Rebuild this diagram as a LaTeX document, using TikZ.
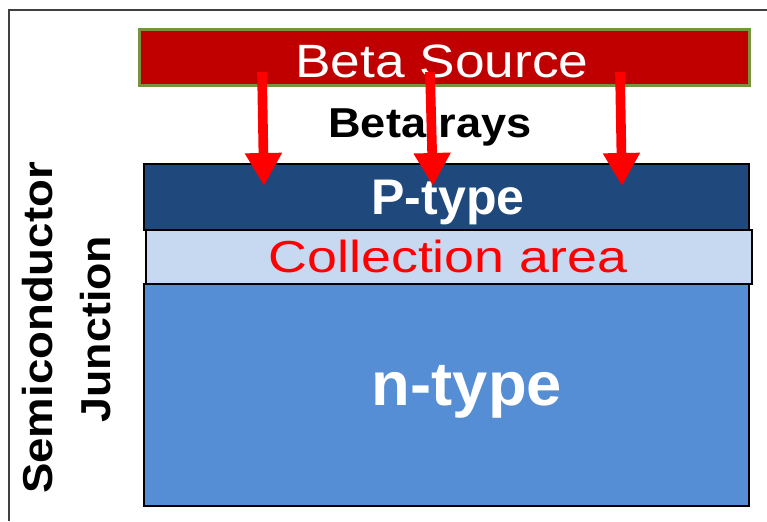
\documentclass[tikz,border=0pt]{standalone}
\usepackage{fontspec}
\setmainfont{Liberation Sans}
\usepackage{graphicx}
\usepackage{tikz}
\usetikzlibrary{arrows.meta,positioning,calc}

\definecolor{srcred}{RGB}{192,0,0}
\definecolor{srcedge}{RGB}{119,147,60}
\definecolor{pblue}{RGB}{31,73,125}
\definecolor{cblue}{RGB}{198,217,241}
\definecolor{nblue}{RGB}{85,142,213}
\definecolor{framegray}{RGB}{64,64,64}

\newcommand{\widen}[2]{\scalebox{#1}[1]{#2}}
\newcommand{\fsz}[1]{\fontsize{#1}{1.2\dimexpr#1\relax}\selectfont}

\tikzset{
  layer/.style={draw=black, line width=1.4pt, inner sep=0pt, anchor=north west},
  ray/.style={red, line width=5.5pt, -{Triangle[width=0.7cm,length=0.66cm]}},
  word/.style={anchor=base, inner sep=0pt},
}

\begin{document}
\begin{tikzpicture}[x=0.02cm, y=-0.02cm]
    \useasboundingbox (0, 0) rectangle (767, 521);
    \fill[white] (0, 0) rectangle (767, 521);

    % frame
    \draw[framegray, line width=0.8pt] (9, 521) -- (9, 10) -- (767, 10);

    % source
    \node[layer, draw=srcedge, line width=1.6pt, fill=srcred, minimum width=12.2cm, minimum height=1.12cm] (source) at (138, 28) {};
    \node[word, text=white] (sourcetxt) at (442, 77) {\fsz{26.6pt}\widen{1.14}{Beta Source}};

    \node[word] (raystxt) at (430, 137) {\fsz{23.8pt}\bfseries\widen{1.08}{Beta rays}};

    % junction layers
    \node[layer, fill=pblue, minimum width=12.1cm, minimum height=1.32cm] (ptype) at (143, 163) {};
    \node[layer, fill=nblue, minimum width=12.1cm, minimum height=4.44cm] (ntype) at (143, 283) {};
    \node[layer, fill=cblue, minimum width=12.12cm, minimum height=1.08cm] (collect) at (145, 229) {};

    \node[word, text=white] (ptxt) at (448, 214) {\fsz{28.5pt}\bfseries P-type};
    \node[word, text=red] (ctxt) at (448, 272) {\fsz{25.5pt}\widen{1.2}{Collection area}};
    \node[word, text=white] (ntxt) at (467, 405) {\fsz{35pt}\bfseries\widen{1.03}{n-type}};

    \node[word, rotate=90] (semi) at (52, 328) {\fsz{23.8pt}\bfseries\widen{1.09}{Semiconductor}};
    \node[word, rotate=90] (junc) at (110, 329) {\fsz{23.8pt}\bfseries\widen{1.07}{Junction}};

    % rays
    \coordinate (s1) at (262, 72);
    \coordinate (s2) at (430, 72);
    \coordinate (s3) at (620, 72);
    \coordinate (t1) at (264, 186);
    \coordinate (t2) at (433, 186);
    \coordinate (t3) at (622, 186);
    \draw[ray] (s1) -- (t1);
    \draw[ray] (s2) -- (t2);
    \draw[ray] (s3) -- (t3);
\end{tikzpicture}
\end{document}
